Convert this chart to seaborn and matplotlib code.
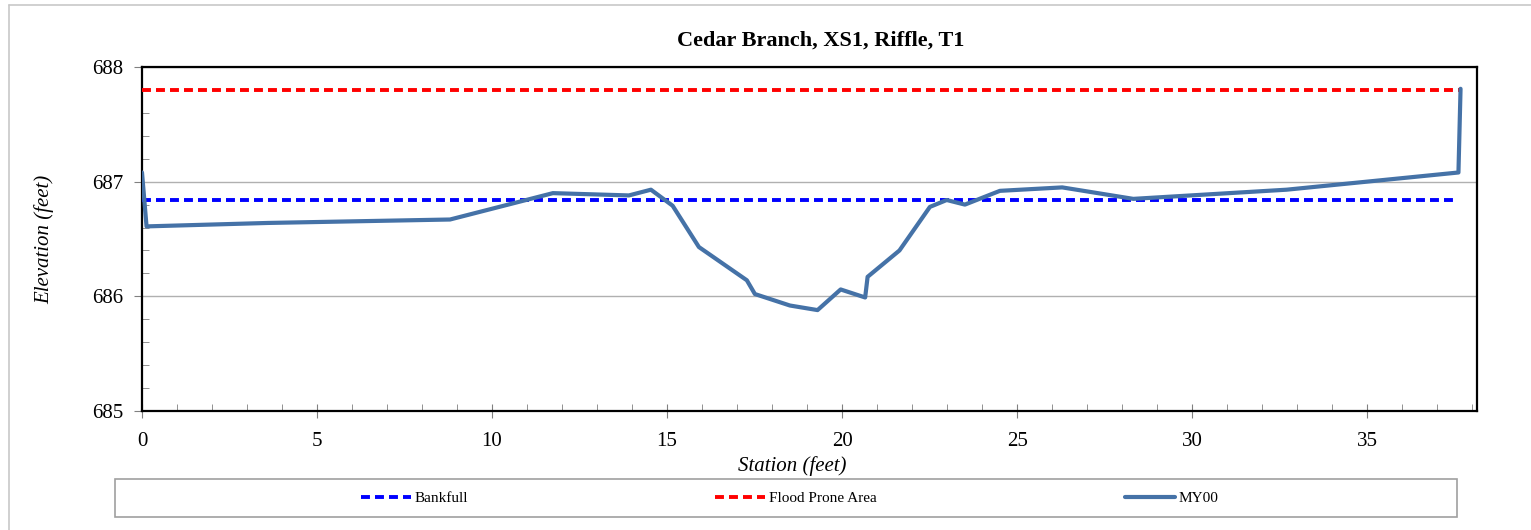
import matplotlib
matplotlib.use('Agg')
import matplotlib.pyplot as plt
import numpy as np
import pandas as pd
import seaborn as sns
from matplotlib.lines import Line2D
from matplotlib.patches import Rectangle
from matplotlib.ticker import MultipleLocator

# survey data
station = [0.0, 0.13, 3.6, 8.8, 11.74, 13.91, 14.54, 15.16, 15.91, 17.28, 17.51,
           18.51, 19.3, 19.96, 20.66, 20.73, 21.64, 22.51, 22.99, 23.51, 24.51,
           26.29, 28.32, 32.7, 37.61, 37.67]
elevation = [687.08, 686.61, 686.64, 686.67, 686.90, 686.88, 686.93, 686.79, 686.43,
             686.14, 686.02, 685.92, 685.88, 686.06, 685.99, 686.17, 686.40, 686.78,
             686.84, 686.80, 686.92, 686.95, 686.85, 686.93, 687.08, 687.81]

bankfull_station = [0.0, 37.6]
bankfull_elev = [686.84, 686.84]
flood_station = [0.0, 37.67]
flood_elev = [687.80, 687.80]

sns.set_style("white")
plt.rcParams['font.family'] = ['Liberation Serif', 'DejaVu Serif']
plt.rcParams['text.color'] = 'black'
plt.rcParams['axes.labelcolor'] = 'black'
plt.rcParams['xtick.labelcolor'] = 'black'
plt.rcParams['ytick.labelcolor'] = 'black'

fig = plt.figure(figsize=(15.31, 5.30), dpi=100)
fig.patch.set_facecolor("#fff")
ax = fig.add_axes([142 / 1531, 1 - 411 / 530, 1335 / 1531, 344 / 530])

df_bf = pd.DataFrame({"x": bankfull_station, "y": bankfull_elev})
df_fp = pd.DataFrame({"x": flood_station, "y": flood_elev})
df_my = pd.DataFrame({"x": station, "y": elevation})

sns.lineplot(data=df_bf, x="x", y="y", ax=ax, color="#0000FF", linewidth=2.8,
             sort=False, label="Bankfull", zorder=3)
sns.lineplot(data=df_fp, x="x", y="y", ax=ax, color="#FF0000", linewidth=2.8,
             sort=False, label="Flood Prone Area", zorder=3)
sns.lineplot(data=df_my, x="x", y="y", ax=ax, color="#4572A7", linewidth=3.0,
             sort=False, label="MY00", zorder=4)
for ln in ax.get_lines()[:2]:
    ln.set_dashes((2.3, 1.3))

ax.set_xlim(0, 38.14)
ax.set_ylim(685, 688)
ax.xaxis.set_major_locator(MultipleLocator(5))
ax.xaxis.set_minor_locator(MultipleLocator(1))
ax.yaxis.set_major_locator(MultipleLocator(1))
ax.yaxis.set_minor_locator(MultipleLocator(0.2))
ax.grid(axis="y", which="major", color="#B0B0B0", linewidth=1)
ax.set_axisbelow(True)

ax.tick_params(axis="x", which="major", direction="inout", length=10, color="#808080",
               labelsize=15, pad=10)
ax.tick_params(axis="x", which="minor", direction="in", length=5, color="#808080")
ax.tick_params(axis="y", which="major", direction="out", length=6, color="#808080",
               labelsize=15, pad=7.5)
ax.tick_params(axis="y", which="minor", direction="in", length=5, color="#808080")
ax.tick_params(bottom=True, left=True, which="both")

for sp in ax.spines.values():
    sp.set_color("black")
    sp.set_linewidth(1.6)

ax.set_xlabel("Station (feet)", fontsize=15, style="italic")
ax.set_ylabel("Elevation (feet)", fontsize=15, style="italic")
ax.xaxis.set_label_coords(0.487, -0.131)
ax.yaxis.set_label_coords(-0.066, 0.5)

fig.text(821 / 1531, 1 - 41 / 530, "Cedar Branch, XS1, Riffle, T1", ha="center",
         va="center", fontsize=16, fontweight="bold")

# legend with its own box below the plot
handles, labels = ax.get_legend_handles_labels()
ax.legend_.remove()
fig.add_artist(Rectangle((115 / 1531, 1 - 517 / 530), 1342 / 1531, 38 / 530,
                         transform=fig.transFigure, facecolor="white",
                         edgecolor="#A0A0A0", linewidth=1.2))
fig.legend(handles, labels, loc="center", bbox_to_anchor=(789.5 / 1531, 1 - 498 / 530),
           ncol=3, frameon=False, fontsize=11, handlelength=3.27, handletextpad=0.26,
           columnspacing=16.2)

# chart area border
fig.add_artist(Line2D([9 / 1531, 9 / 1531], [0, 1 - 5 / 530], transform=fig.transFigure,
                      color="#C8C8C8", linewidth=1.2))
fig.add_artist(Line2D([9 / 1531, 1], [1 - 5 / 530, 1 - 5 / 530], transform=fig.transFigure,
                      color="#C8C8C8", linewidth=1.2))

fig.savefig("out.png", dpi=100, facecolor="#fff")
